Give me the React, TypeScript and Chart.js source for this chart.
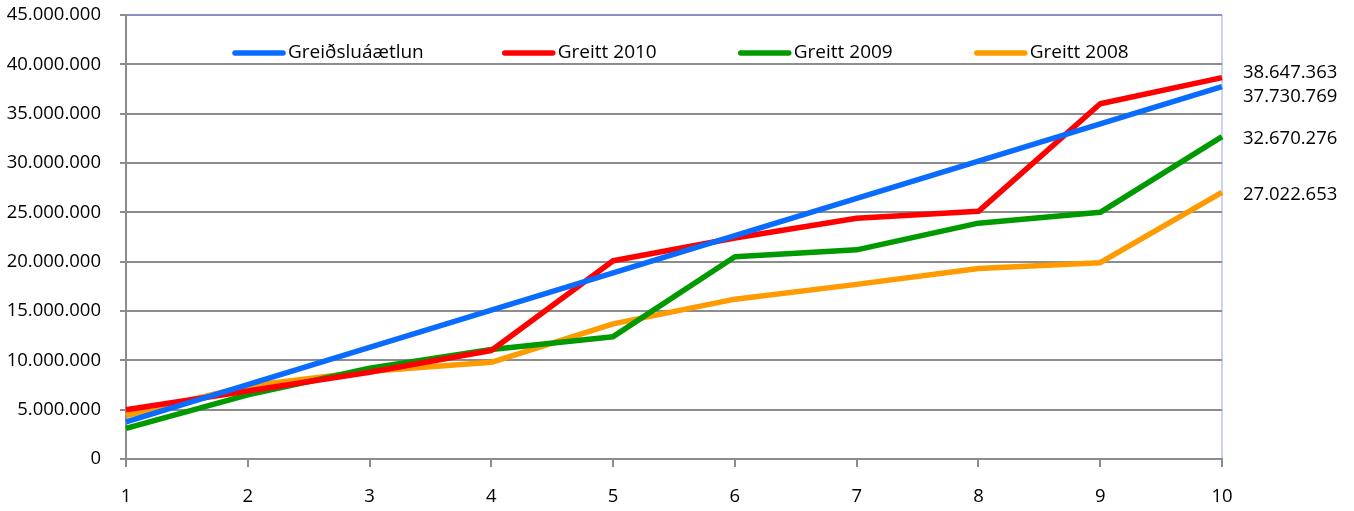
import React, { useEffect, useRef } from "react";
import { Chart, registerables } from "chart.js";

Chart.register(...registerables);

const categories = ["1", "2", "3", "4", "5", "6", "7", "8", "9", "10"];
const seriesNames = ["Greiðsluáætlun", "Greitt 2010", "Greitt 2009", "Greitt 2008"];
const seriesColors = ["#0A6CFF", "#FF0000", "#009A00", "#FF9A00"];

const planValues = [3773077, 7546154, 11319231, 15092308, 18865385, 22638461, 26411538, 30184615, 33957692, 37730769];
const paid2010 = [5000000, 6900000, 8800000, 11000000, 20100000, 22400000, 24400000, 25100000, 36000000, 38647363];
const paid2009 = [3100000, 6500000, 9200000, 11100000, 12400000, 20500000, 21200000, 23900000, 25000000, 32670276];
const paid2008 = [4400000, 7400000, 8900000, 9800000, 13700000, 16200000, 17700000, 19300000, 19900000, 27022653];

const yTickStep = 5000000;
const yMax = 45000000;

const FONT = "'Open Sans', 'Liberation Sans', sans-serif";

function fmt(v: number): string {
  return Math.round(v).toString().replace(/\B(?=(\d{3})+(?!\d))/g, ".");
}

const overlayPlugin = {
  id: "overlay",
  afterDatasetsDraw(chart: any) {
    const ctx = chart.ctx;
    const area = chart.chartArea;
    const yScale = chart.scales.y;
    ctx.save();
    // legend inside plot
    ctx.font = `19px ${FONT}`;
    ctx.textBaseline = "middle";
    ctx.textAlign = "left";
    const ly = area.top + 38;
    let x = area.left + 108;
    const sampleW = 48;
    chart.data.datasets.forEach((ds: any) => {
      ctx.strokeStyle = ds.borderColor;
      ctx.lineWidth = 5.5;
      ctx.lineCap = "round";
      ctx.beginPath();
      ctx.moveTo(x + 1, ly);
      ctx.lineTo(x + 1 + sampleW, ly);
      ctx.stroke();
      ctx.fillStyle = "#000";
      ctx.fillText(ds.label, x + sampleW + 6, ly);
      x += sampleW + 6 + Math.max(ctx.measureText(ds.label).width, 102) + 80;
    });
    // end labels
    ctx.font = `18.5px ${FONT}`;
    const items = chart.data.datasets.map((ds: any) => {
      const v = ds.data[ds.data.length - 1];
      return { v, y: yScale.getPixelForValue(v) + 2.5 };
    });
    const sorted = [...items].sort((a, b) => a.y - b.y);
    const minGap = 24;
    for (let i = 1; i < sorted.length; i++) {
      const d = sorted[i].y - sorted[i - 1].y;
      if (d < minGap) {
        const push = (minGap - d) / 2;
        sorted[i - 1].y -= push;
        sorted[i].y += push;
      }
    }
    ctx.fillStyle = "#000";
    items.forEach((it: any) => {
      ctx.fillText(fmt(it.v), area.right + 21, it.y);
    });
    ctx.restore();
  },
};

export default function App() {
  const ref = useRef<HTMLCanvasElement>(null);
  useEffect(() => {
    if (!ref.current) return;
    const allSeries = [planValues, paid2010, paid2009, paid2008];
    const chart = new Chart(ref.current, {
      type: "line",
      data: {
        labels: categories,
        datasets: allSeries.map((d, i) => ({
          label: seriesNames[i],
          data: d,
          borderColor: seriesColors[i],
          backgroundColor: seriesColors[i],
          borderWidth: 5.5,
          pointRadius: 0,
          tension: 0,
          fill: false,
          borderJoinStyle: "round" as const,
        })),
      },
      options: {
        animation: false,
        responsive: true,
        maintainAspectRatio: false,
        layout: { padding: { top: 15, right: 132, left: 0, bottom: 0 } },
        plugins: { legend: { display: false }, tooltip: { enabled: false }, title: { display: false } },
        scales: {
          x: {
            type: "category",
            offset: false,
            grid: {
              color: (c: any) => (c.index === categories.length - 1 ? "#C9D3F2" : "rgba(0,0,0,0)"),
              tickColor: "#8C8C8C",
              tickLength: 8,
              lineWidth: 2,
            },
            border: { color: "#8C8C8C", width: 2 },
            ticks: { color: "#000", font: { family: FONT, size: 18.5 }, padding: 19, maxRotation: 0 },
            afterFit: (s: any) => { s.height = 52; s.paddingLeft = 0; s.paddingRight = 0; },
          },
          y: {
            min: 0,
            max: yMax,
            ticks: {
              stepSize: yTickStep,
              color: "#000",
              font: { family: FONT, size: 18.5 },
              padding: 19,
              callback: (v: any) => fmt(Number(v)),
            },
            grid: {
              color: (c: any) => (c.tick && c.tick.value === yMax ? "#8890C8" : "#8C8C8C"),
              tickColor: "#8C8C8C",
              tickLength: 6,
              lineWidth: 2,
            },
            border: { color: "#8C8C8C", width: 2 },
            afterFit: (s: any) => { s.width = 126; s.paddingTop = 0; s.paddingBottom = 0; },
          },
        },
      },
      plugins: [overlayPlugin],
    });
    return () => chart.destroy();
  }, []);
  return (
    <div style={{ position: "absolute", left: 0, top: 0, width: 1354, height: 511, background: "#fff" }}>
      <canvas ref={ref} />
    </div>
  );
}
